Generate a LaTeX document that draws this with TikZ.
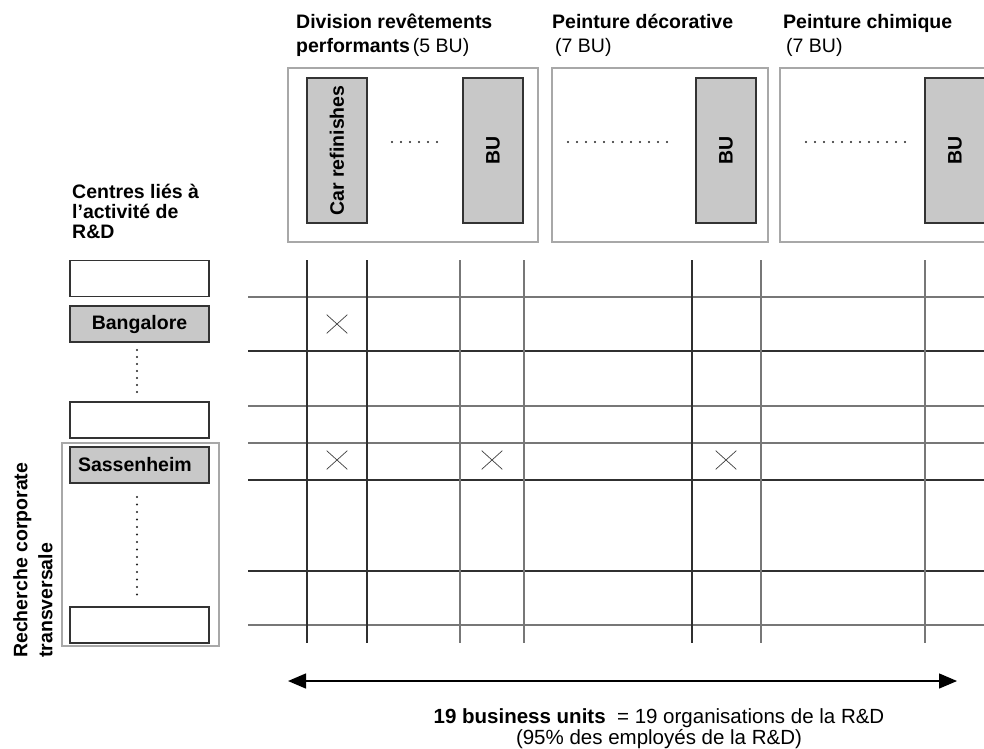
\documentclass[tikz,border=0pt]{standalone}
\usepackage{fontspec}
\setmainfont{Liberation Sans}
\usetikzlibrary{arrows.meta,shapes.misc}

\definecolor{bufill}{HTML}{C8C8C8}
\definecolor{edgedark}{HTML}{333333}
\definecolor{edgelight}{HTML}{A8A8A8}
\definecolor{griddark}{HTML}{303030}
\definecolor{gridlight}{HTML}{777777}
\definecolor{dotc}{HTML}{222222}

\begin{document}
\begin{tikzpicture}[x=1pt,y=-1pt,
  lbl/.style={font=\fontsize{19.5}{24}\selectfont, inner sep=0pt, align=left},
  group/.style={draw=edgelight, line width=1.2pt},
  unit/.style={draw=edgedark, fill=bufill, line width=1.2pt, rotate=90,
    font=\bfseries\fontsize{19.5}{24}\selectfont, inner sep=0pt},
  site/.style={draw=edgedark, line width=1.2pt, minimum width=139pt, minimum height=36pt,
    font=\bfseries\fontsize{19.5}{24}\selectfont, inner sep=0pt},
  gdark/.style={draw=griddark, line width=1.1pt},
  glight/.style={draw=gridlight, line width=1.1pt},
  mark x/.style={cross out, draw=black!75, line width=0.7pt, minimum width=20pt,
    minimum height=18pt, inner sep=0pt},
  span/.style={line width=1.4pt, {Triangle[length=18pt,width=15pt]}-{Triangle[length=18pt,width=15pt]}}
]
\clip (0,0) rectangle (984,748);
\fill[white] (0,0) rectangle (984,748);

% business-unit groups
\node[group, minimum width=250pt, minimum height=174pt] (g1) at (413,155) {};
\node[group, minimum width=216pt, minimum height=174pt] (g2) at (660,155) {};
\node[group, minimum width=230pt, minimum height=174pt] (g3) at (895,155) {};

\node[unit, minimum width=145pt, minimum height=60pt] (car) at (337,150.5) {Car refinishes};
\node[unit, minimum width=145pt, minimum height=60pt] (bu1) at (493,150.5) {BU};
\node[unit, minimum width=145pt, minimum height=60pt] (bu2) at (726,150.5) {BU};
\node[unit, minimum width=145pt, minimum height=60pt] (bu3) at (955,150.5) {BU};

\foreach \i in {0,...,5} \fill[dotc] (392+9*\i,142) circle (1.1);
\foreach \i in {0,...,11} \fill[dotc] (568+9*\i,142) circle (1.1);
\foreach \i in {0,...,11} \fill[dotc] (806+9*\i,142) circle (1.1);

% group titles (anchored on the baseline of their last line)
\node[lbl, anchor=base west] (t1) at (296,52)
  {\bfseries Division revêtements\\\bfseries performants\kern3pt{\mdseries(5 BU)}};
\node[lbl, anchor=base west] (t2) at (552,52)
  {\bfseries Peinture décorative\\\kern3pt(7 BU)};
\node[lbl, anchor=base west] (t3) at (783,52)
  {\bfseries Peinture chimique\\\kern3pt(7 BU)};

% R&D centres
\node[lbl, anchor=base west, font=\bfseries\fontsize{19.5}{20}\selectfont] (rd) at (72,238)
  {Centres liés à\\l’activité de\\R\&D};

\node[site] (c1) at (139.5,278.5) {};
\node[site, fill=bufill] (bang) at (139.5,324) {Bangalore};
\node[site] (c2) at (139.5,420) {};
\node[group, minimum width=157pt, minimum height=203pt] (rct) at (140.5,544.5) {};
\node[site, fill=bufill, text width=123pt, inner xsep=8pt, align=left] (sass) at (139.5,465) {Sassenheim};
\node[site] (c3) at (139.5,625) {};

\foreach \i in {0,...,6} \fill[dotc] (137,350+7*\i) circle (1.1);
\foreach \i in {0,...,13} \fill[dotc] (137,497+7.5*\i) circle (1.1);

\node[lbl, rotate=90, anchor=north west, font=\bfseries\fontsize{19.5}{25}\selectfont] (rctl)
  at (13,658) {Recherche corporate\\transversale};

% matrix grid
\foreach \y in {351,480,571} \draw[gdark] (248,\y) -- (984,\y);
\foreach \y in {297,406,443,625} \draw[glight] (248,\y) -- (984,\y);
\foreach \x in {307,367,692} \draw[gdark] (\x,260) -- (\x,643);
\foreach \x in {460,524,761,925} \draw[glight] (\x,260) -- (\x,643);

\node[mark x] (m1) at (337,324) {};
\node[mark x] (m2) at (337,460) {};
\node[mark x] (m3) at (492,460) {};
\node[mark x] (m4) at (726,460) {};

% span of the business units
\coordinate (spanL) at (288,681);
\coordinate (spanR) at (957,681);
\draw[span] (spanL) -- (spanR);

\node[lbl, align=center, anchor=base, font=\fontsize{20.5}{21}\selectfont] (note) at (659,744)
  {\textbf{19 business units}\ \ = 19 organisations de la R\&D\\(95\% des employés de la R\&D)};
\end{tikzpicture}
\end{document}
